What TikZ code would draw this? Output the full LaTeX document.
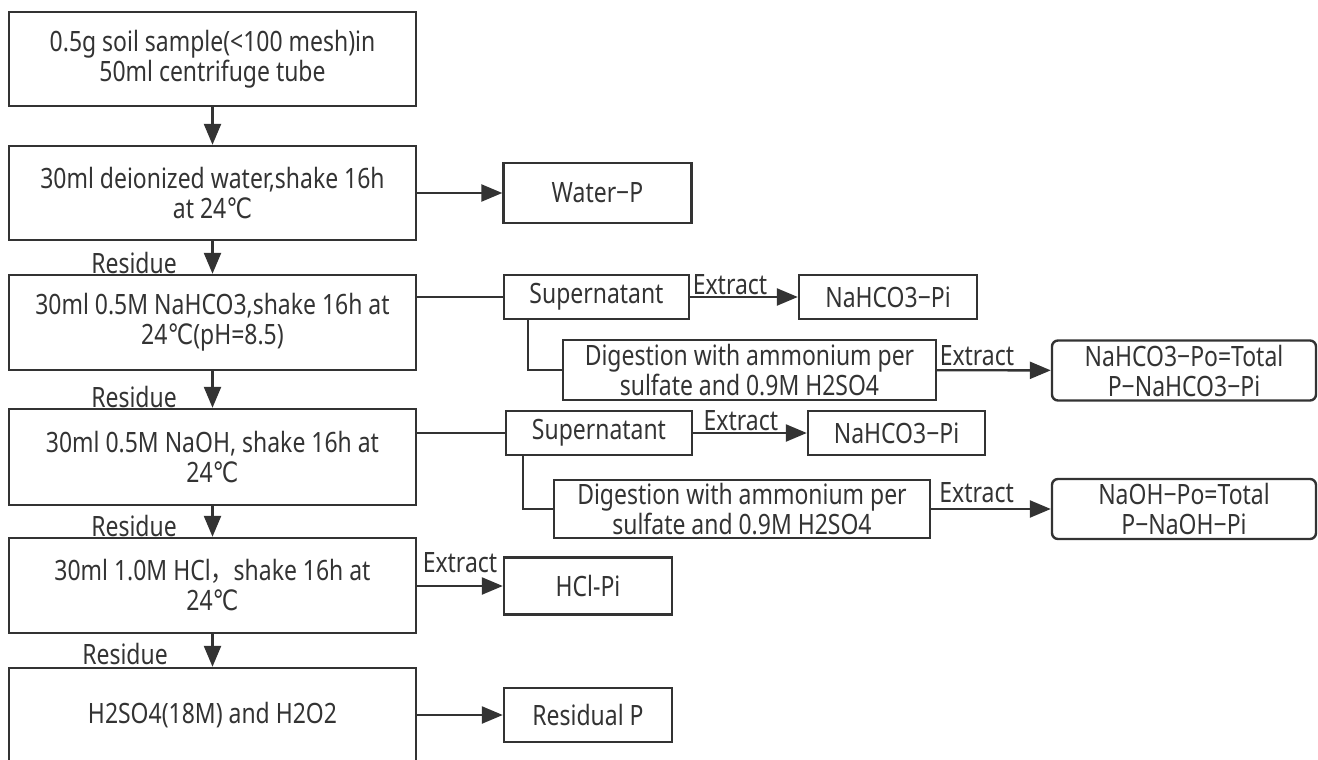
\documentclass[tikz,border=0pt]{standalone}
\usepackage{fontspec}
\setmainfont{Noto Sans}[FakeStretch=0.82]
\newfontfamily\symfont{DejaVu Sans}[FakeStretch=0.82]
\newfontfamily\cjk{Noto Sans CJK SC}[FakeStretch=0.82]
\usetikzlibrary{arrows.meta,positioning}

\definecolor{linegray}{HTML}{333333}
\newcommand{\degc}{{\symfont ℃}}

\begin{document}
\begin{tikzpicture}[x=1pt, y=-1pt, >={Triangle[length=21pt,width=17pt]},
  color=linegray, line width=2.4pt,
  every node/.style={font=\fontsize{28}{30}\selectfont},
  stepbox/.style={draw, align=center, inner sep=0pt, minimum width=407pt},
  outbox/.style={draw, align=center, inner sep=0pt, minimum height=44pt},
  finalbox/.style={outbox, rounded corners=6pt, minimum width=264pt, minimum height=60pt},
  lbl/.style={inner sep=1pt}]

\useasboundingbox (0,0) rectangle (1318,760);

% Main steps on the left
\node[stepbox, minimum height=94pt] (b1) at (212.5,59) {0.5g soil sample(<100 mesh)in\\50ml centrifuge tube};
\node[stepbox, minimum height=94pt] (b2) at (212.5,193) {30ml deionized water,shake 16h\\at 24\degc};
\node[stepbox, minimum height=95pt] (b3) at (212.5,322.5) {30ml 0.5M NaHCO3,shake 16h at\\24\degc(pH=8.5)};
\node[stepbox, minimum height=96pt] (b4) at (212.5,457) {30ml 0.5M NaOH, shake 16h at\\24\degc};
\node[stepbox, minimum height=95pt] (b5) at (212.5,585.5) {30ml 1.0M HCl{\cjk ，}shake 16h at\\24\degc};
\node[stepbox, minimum height=94pt] (b6) at (212.5,715) {H2SO4(18M) and H2O2};

% Fractions on the right
\node[outbox, minimum width=188pt, minimum height=60pt] (water) at (597.5,193) {Water−P};
\node[outbox, minimum width=185pt] (sup1) at (596.5,297) {Supernatant};
\node[outbox, minimum width=178pt] (nah1) at (888,297) {NaHCO3−Pi};
\node[outbox, minimum width=373pt, minimum height=60pt] (dig1) at (749.5,370) {Digestion with ammonium per\\sulfate and 0.9M H2SO4};
\node[finalbox] (po1) at (1184,370.5) {NaHCO3−Po=Total\\P−NaHCO3−Pi};
\node[outbox, minimum width=186pt] (sup2) at (599,433) {Supernatant};
\node[outbox, minimum width=177pt] (nah2) at (896.5,433) {NaHCO3−Pi};
\node[outbox, minimum width=376pt, minimum height=58pt] (dig2) at (742,509) {Digestion with ammonium per\\sulfate and 0.9M H2SO4};
\node[finalbox] (po2) at (1184,509) {NaOH−Po=Total\\P−NaOH−Pi};
\node[outbox, minimum width=168pt, minimum height=57pt] (hcl) at (588,586) {HCl-Pi};
\node[outbox, minimum width=168pt, minimum height=54pt] (resp) at (588,715) {Residual P};

% Residue labels
\node[lbl] (r1) at (134,263) {Residue};
\node[lbl] (r2) at (134,397) {Residue};
\node[lbl] (r3) at (134,526) {Residue};
\node[lbl] (r4) at (125,654) {Residue};

% Downward flow
\draw[->] (b1) -- (b2);
\draw[->] (b2) -- (b3);
\draw[->] (b3) -- (b4);
\draw[->] (b4) -- (b5);
\draw[->] (b5) -- (b6);

% Side branches
\draw[->] (b2) -- (water);
\draw (b3.east |- sup1.west) -- (sup1.west);
\draw[->] (sup1) -- node[lbl, above, pos=0.37] {Extract} (nah1);
\draw ([xshift=25pt]sup1.south west) |- (dig1.west);
\draw[->] (dig1) -- node[lbl, above=2pt, pos=0.35] {Extract} (po1);
\draw (b4.east |- sup2.west) -- (sup2.west);
\draw[->] (sup2) -- node[lbl, above, pos=0.42] {Extract} (nah2);
\draw ([xshift=18pt]sup2.south west) |- (dig2.west);
\draw[->] (dig2) -- node[lbl, above=4pt, pos=0.38] {Extract} (po2);
\draw[->] (b5.east |- hcl.west) -- node[lbl, above=11pt] {Extract} (hcl.west);
\draw[->] (b6.east |- resp.west) -- (resp.west);

\end{tikzpicture}
\end{document}
